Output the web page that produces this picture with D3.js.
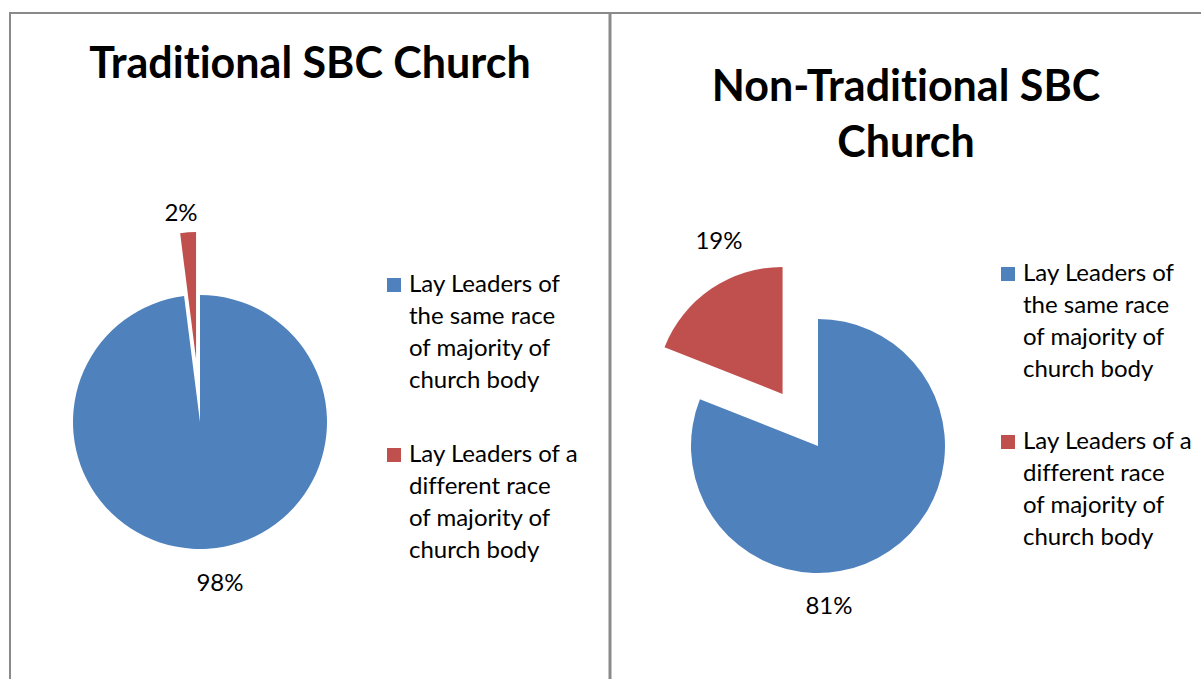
<!DOCTYPE html>
<html><head><meta charset="utf-8">
<script src="https://cdn.jsdelivr.net/npm/d3@7"></script>
<style>
html,body{margin:0;padding:0;background:#fff;}
svg{display:block;}
text{font-family:Lato,"Open Sans",sans-serif;fill:#000;font-variant-ligatures:none;font-feature-settings:"liga" 0;}
</style></head>
<body>
<svg id="chart" width="1201" height="679"></svg>
<script>
const categories = ["Lay Leaders of the same race of majority of church body",
                    "Lay Leaders of a different race of majority of church body"];
const legendLines = [["Lay Leaders of","the same race","of majority of","church body"],
                     ["Lay Leaders of a","different race","of majority of","church body"]];
const titles = [["Traditional SBC Church"], ["Non-Traditional SBC","Church"]];
const traditionalValues = [98, 2];
const nonTraditionalValues = [81, 19];
const percentLabels = [["98%","2%"],["81%","19%"]];
const colors = ["#4F81BD", "#C0504D"];

const svg = d3.select("#chart");

// frame
svg.append("line").attr("x1",10).attr("x2",1201).attr("y1",13).attr("y2",13).attr("stroke","#8a8a8a").attr("stroke-width",2);
svg.append("line").attr("x1",10).attr("x2",10).attr("y1",12).attr("y2",679).attr("stroke","#8a8a8a").attr("stroke-width",2);
svg.append("line").attr("x1",610).attr("x2",610).attr("y1",12).attr("y2",679).attr("stroke","#8a8a8a").attr("stroke-width",3);

const panels = [
  {values: traditionalValues, cx: 200, cy: 422, titleX: 310, titleY: [78], legendX: 387, legendY: [292, 462], labelPos: [[220,591],[181,221]]},
  {values: nonTraditionalValues, cx: 818, cy: 446, titleX: 906, titleY: [101, 157], legendX: 1001, legendY: [281, 449], labelPos: [[829,614],[719,249]]}
];
const R = 127, explode = 63;

const pie = d3.pie().sort(null).startAngle(0).endAngle(2*Math.PI);
const arc = d3.arc().innerRadius(0).outerRadius(R);

panels.forEach((p, pi) => {
  const g = svg.append("g");
  titles[pi].forEach((t, i) => {
    g.append("text").attr("x", p.titleX).attr("y", p.titleY[i]).attr("text-anchor","middle")
      .attr("font-size", 43).attr("font-weight", "bold").text(t);
  });
  const arcs = pie(p.values);
  const pg = g.append("g").attr("transform", `translate(${p.cx},${p.cy})`);
  pg.selectAll("path").data(arcs).join("path")
    .attr("d", arc)
    .attr("fill", (d,i) => colors[i])
    .attr("transform", (d,i) => {
      if (i === 0) return null;
      const a = (d.startAngle + d.endAngle) / 2;
      return `translate(${explode*Math.sin(a)},${-explode*Math.cos(a)})`;
    });
  arcs.forEach((d, i) => {
    g.append("text").attr("x", p.labelPos[i][0]).attr("y", p.labelPos[i][1]).attr("text-anchor","middle")
      .attr("font-size", 24).text(percentLabels[pi][i]);
  });
  categories.forEach((c, i) => {
    const ly = p.legendY[i];
    g.append("rect").attr("x", p.legendX).attr("y", ly - 14).attr("width", 14).attr("height", 14).attr("fill", colors[i]);
    legendLines[i].forEach((ln, j) => {
      g.append("text").attr("x", p.legendX + 22).attr("y", ly + j*32).attr("font-size", 24).text(ln);
    });
  });
});
</script>
</body></html>
